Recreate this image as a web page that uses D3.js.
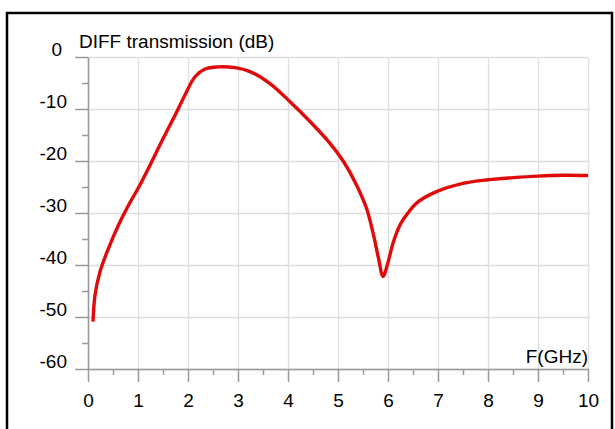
<!DOCTYPE html>
<html>
<head>
<meta charset="utf-8">
<script src="https://cdn.jsdelivr.net/npm/d3@7"></script>
<style>
  body { margin: 0; background: #fff; }
  text { font-family: 'Liberation Sans', Arial, sans-serif; fill: #000; }
</style>
</head>
<body>
<div id="graf"></div>
<script>
// datos
frecuencia  = [0.1, 0.14, 0.24, 0.41, 0.61, 0.81, 1.0, 1.24, 1.47, 1.71, 1.94, 2.14, 2.34, 2.6, 2.94,
               3.24, 3.64, 4.04, 4.44, 4.84, 5.11, 5.37, 5.57, 5.71, 5.81, 5.9, 6.0, 6.1, 6.24, 6.4,
               6.57, 6.97, 7.5, 8.0, 8.5, 9.0, 9.5, 10.0]
transmision = [-50.9, -45.8, -41.3, -36.8, -32.3, -28.5, -25.3, -20.8, -16.3, -11.8, -7.3, -3.8, -2.3, -1.9, -2.05,
               -2.8, -5.1, -8.6, -12.4, -16.6, -20.1, -24.6, -29.1, -34.2, -38.7, -42.2, -39.5, -35.8, -32.3, -30.0,
               -28.1, -25.9, -24.3, -23.6, -23.2, -22.9, -22.75, -22.8]
xTicks      = [0, 1, 2, 3, 4, 5, 6, 7, 8, 9, 10]
xMenores    = [0.5, 1.5, 2.5, 3.5, 4.5, 5.5, 6.5, 7.5, 8.5, 9.5]
yTicks      = [0, -10, -20, -30, -40, -50, -60]
yMenores    = [-5, -15, -25, -35, -45, -55]
tituloY     = 'DIFF transmission (dB)'
tituloX     = 'F(GHz)'

datos = frecuencia.map((f, i) => ({ f: f, db: transmision[i] }))

// margenes
ancho_total = 615
alto_total = 429
margins = { top: 57, left: 88, right: 27, bottom: 60 }
ancho = 500
alto = 312
fuente = 19

svg = d3.select('#graf').append('svg')
        .attr('width', ancho_total)
        .attr('height', alto_total)

// marco negro
svg.append('rect')
   .attr('x', 7).attr('y', 13)
   .attr('width', 605).attr('height', 440)
   .attr('fill', 'none')
   .attr('stroke', '#000')
   .attr('stroke-width', 2.5)

g = svg.append('g')
       .attr('transform', `translate(${ margins.left }, ${ margins.top })`)

x = d3.scaleLinear().domain([0, 10]).range([0, ancho])
y = d3.scaleLinear().domain([-60, 0]).range([alto, 0])

// rejilla
g.append('g')
 .attr('transform', `translate(0, ${ alto })`)
 .call(d3.axisBottom(x).tickValues(xTicks).tickSize(-alto).tickFormat(''))
 .call(s => s.select('.domain').remove())
 .selectAll('line').attr('stroke', '#dedede').attr('stroke-width', 1.3)

g.append('g')
 .call(d3.axisLeft(y).tickValues(yTicks).tickSize(-ancho).tickFormat(''))
 .call(s => s.select('.domain').remove())
 .selectAll('line').attr('stroke', '#dedede').attr('stroke-width', 1.3)

// ejes
ejeX = g.append('g').attr('transform', `translate(0, ${ alto })`)
ejeX.call(d3.axisBottom(x).tickValues(xTicks).tickSize(13).tickSizeOuter(0).tickPadding(12)
            .tickFormat(d => d + ''))
ejeX.select('.domain').attr('stroke', '#999').attr('stroke-width', 1.5)
ejeX.selectAll('line').attr('stroke', '#999').attr('stroke-width', 1.5)
ejeX.selectAll('text').attr('font-size', fuente)
    .attr('font-family', "'Liberation Sans', Arial, sans-serif")

g.append('g').attr('transform', `translate(0, ${ alto })`)
 .call(d3.axisBottom(x).tickValues(xMenores).tickSize(6).tickFormat(''))
 .call(s => s.select('.domain').remove())
 .selectAll('line').attr('stroke', '#999').attr('stroke-width', 1.5)

ejeY = g.append('g')
ejeY.call(d3.axisLeft(y).tickValues(yTicks).tickSize(13).tickSizeOuter(0).tickPadding(9)
            .tickFormat(d => d + ''))
ejeY.select('.domain').attr('stroke', '#999').attr('stroke-width', 1.5)
ejeY.selectAll('line').attr('stroke', '#999').attr('stroke-width', 1.5)
ejeY.selectAll('text').attr('font-size', fuente)
    .attr('font-family', "'Liberation Sans', Arial, sans-serif")
    .attr('dy', '-0.1em')
    .attr('x', d => d === 0 ? -26 : -21)

g.append('g')
 .call(d3.axisLeft(y).tickValues(yMenores).tickSize(6).tickFormat(''))
 .call(s => s.select('.domain').remove())
 .selectAll('line').attr('stroke', '#999').attr('stroke-width', 1.5)

// titulos
g.append('text')
 .attr('x', -9).attr('y', -9)
 .attr('font-size', fuente)
 .text(tituloY)

g.append('text')
 .attr('x', ancho).attr('y', alto - 6)
 .attr('text-anchor', 'end')
 .attr('font-size', fuente)
 .text(tituloX)

// curva
linea = d3.line()
          .x(d => x(d.f))
          .y(d => y(d.db))
          .curve(d3.curveCatmullRom.alpha(0.5))

g.append('path')
 .datum(datos)
 .attr('d', linea)
 .attr('fill', 'none')
 .attr('stroke', '#e00a0a')
 .attr('stroke-width', 3.4)
 .attr('stroke-linejoin', 'round')
</script>
</body>
</html>
